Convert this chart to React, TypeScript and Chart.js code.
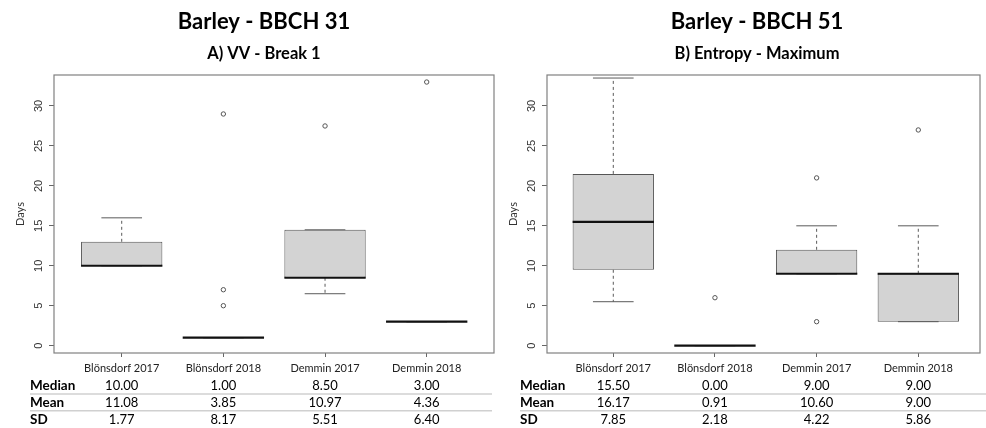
import React, { useEffect, useRef } from 'react';
import { Chart, registerables } from 'chart.js';

Chart.register(...registerables);

// ---------- data ----------
const categories = ['Blönsdorf 2017', 'Blönsdorf 2018', 'Demmin 2017', 'Demmin 2018'];
const yTicks = [0, 5, 10, 15, 20, 25, 30];
const statLabels = ['Median', 'Mean', 'SD'];

// Panel A: Barley - BBCH 31, VV - Break 1
const aLowerWhisker = [10, 1, 6.5, 3];
const aQ1 = [10, 1, 8.5, 3];
const aMedian = [10, 1, 8.5, 3];
const aQ3 = [13, 1, 14.5, 3];
const aUpperWhisker = [16, 1, 14.5, 3];
const aOutliers: number[][] = [[], [29, 7, 5], [27.5], [33]];
const aStatMedian = [10.0, 1.0, 8.5, 3.0];
const aStatMean = [11.08, 3.85, 10.97, 4.36];
const aStatSD = [1.77, 8.17, 5.51, 6.4];

// Panel B: Barley - BBCH 51, Entropy - Maximum
const bLowerWhisker = [5.5, 0, 9, 3];
const bQ1 = [9.5, 0, 9, 3];
const bMedian = [15.5, 0, 9, 9];
const bQ3 = [21.5, 0, 12, 9];
const bUpperWhisker = [33.5, 0, 15, 15];
const bOutliers: number[][] = [[], [6], [21, 3], [27]];
const bStatMedian = [15.5, 0.0, 9.0, 9.0];
const bStatMean = [16.17, 0.91, 10.6, 9.0];
const bStatSD = [7.85, 2.18, 4.22, 5.86];

// ---------- layout / style ----------
const W = 986;
const H = 428;
const FONT = 'Lato, "Open Sans", sans-serif';

const panels = [
  {
    title: 'Barley - BBCH 31',
    subtitle: 'A) VV - Break 1',
    lower: aLowerWhisker, q1: aQ1, median: aMedian, q3: aQ3, upper: aUpperWhisker,
    outliers: aOutliers, stats: [aStatMedian, aStatMean, aStatSD],
    pad: { left: 0, right: 492, top: 75, bottom: 0 }, yWidth: 54,
    xMin: 0.334, xMax: 4.662, titleX: 264, tableX0: 30, tableX1: 492,
  },
  {
    title: 'Barley - BBCH 51',
    subtitle: 'B) Entropy - Maximum',
    lower: bLowerWhisker, q1: bQ1, median: bMedian, q3: bQ3, upper: bUpperWhisker,
    outliers: bOutliers, stats: [bStatMedian, bStatMean, bStatSD],
    pad: { left: 505, right: 6, top: 75, bottom: 0 }, yWidth: 42,
    xMin: 0.348, xMax: 4.607, titleX: 757, tableX0: 520, tableX1: 986,
  },
];

const BOX_WIDTH = 0.8; // in category units
const STAPLE_WIDTH = 0.4;

const boxPlugin = {
  id: 'boxExtras',
  beforeDatasetsDraw(chart: any, _args: any, opts: any) {
    const p = opts.panel;
    const { ctx, scales } = chart;
    const x = scales.x, y = scales.y;
    ctx.save();
    ctx.strokeStyle = '#5a5a5a';
    ctx.lineWidth = 1;
    categories.forEach((_, i) => {
      const cx = x.getPixelForValue(i + 1);
      const sh = x.getPixelForValue(i + 1 + STAPLE_WIDTH / 2) - cx;
      ctx.setLineDash([3, 3]);
      if (p.upper[i] > p.q3[i]) {
        ctx.beginPath();
        ctx.moveTo(cx, y.getPixelForValue(p.q3[i]));
        ctx.lineTo(cx, y.getPixelForValue(p.upper[i]));
        ctx.stroke();
      }
      if (p.lower[i] < p.q1[i]) {
        ctx.beginPath();
        ctx.moveTo(cx, y.getPixelForValue(p.q1[i]));
        ctx.lineTo(cx, y.getPixelForValue(p.lower[i]));
        ctx.stroke();
      }
      ctx.setLineDash([]);
      [p.upper[i], p.lower[i]].forEach((v: number) => {
        const py = y.getPixelForValue(v);
        ctx.beginPath();
        ctx.moveTo(cx - sh, py);
        ctx.lineTo(cx + sh, py);
        ctx.stroke();
      });
    });
    ctx.restore();
  },
  afterDatasetsDraw(chart: any, _args: any, opts: any) {
    const p = opts.panel;
    const { ctx, scales, chartArea } = chart;
    const x = scales.x, y = scales.y;
    ctx.save();
    ctx.strokeStyle = '#111';
    ctx.lineWidth = 2.2;
    categories.forEach((_, i) => {
      const cx = x.getPixelForValue(i + 1);
      const hw = x.getPixelForValue(i + 1 + BOX_WIDTH / 2) - cx;
      const py = y.getPixelForValue(p.median[i]);
      ctx.beginPath();
      ctx.moveTo(cx - hw, py);
      ctx.lineTo(cx + hw, py);
      ctx.stroke();
    });
    // frame
    ctx.strokeStyle = '#808080';
    ctx.lineWidth = 1.2;
    ctx.strokeRect(chartArea.left, chartArea.top, chartArea.right - chartArea.left, chartArea.bottom - chartArea.top);
    ctx.restore();
  },
  afterDraw(chart: any, _args: any, opts: any) {
    const p = opts.panel;
    const { ctx, scales, chartArea } = chart;
    const x = scales.x, y = scales.y;
    ctx.save();
    // titles
    ctx.fillStyle = '#000';
    ctx.textAlign = 'center';
    ctx.textBaseline = 'alphabetic';
    ctx.font = `bold 22px ${FONT}`;
    ctx.fillText(p.title, p.titleX, 28.5);
    ctx.font = `bold 16.5px ${FONT}`;
    ctx.fillText(p.subtitle, p.titleX, 58.5);
    // y tick labels (rotated)
    ctx.fillStyle = '#333';
    ctx.font = '11px "Liberation Sans", Arial, sans-serif';
    ctx.textBaseline = 'middle';
    yTicks.forEach((v) => {
      ctx.save();
      ctx.translate(chartArea.left - 15.5, y.getPixelForValue(v));
      ctx.rotate(-Math.PI / 2);
      ctx.fillText(String(v), 0, 0);
      ctx.restore();
    });
    // y title
    ctx.save();
    ctx.font = `11px ${FONT}`;
    ctx.translate(chartArea.left - 34, (chartArea.top + chartArea.bottom) / 2);
    ctx.rotate(-Math.PI / 2);
    ctx.fillText('Days', 0, 0);
    ctx.restore();
    // table
    const baselines = [390, 406.5, 424];
    ctx.textBaseline = 'alphabetic';
    ctx.strokeStyle = '#d0d0d0';
    ctx.lineWidth = 1.5;
    [394, 410.7].forEach((ly) => {
      ctx.beginPath();
      ctx.moveTo(p.tableX0, ly);
      ctx.lineTo(p.tableX1, ly);
      ctx.stroke();
    });
    statLabels.forEach((lab, r) => {
      ctx.fillStyle = '#000';
      ctx.textAlign = 'left';
      ctx.font = `bold 13.5px ${FONT}`;
      ctx.fillText(lab, p.tableX0, baselines[r]);
      ctx.textAlign = 'center';
      ctx.font = `13px ${FONT}`;
      p.stats[r].forEach((v: number, i: number) => {
        ctx.fillText(v.toFixed(2), x.getPixelForValue(i + 1), baselines[r]);
      });
    });
    ctx.restore();
  },
};

function Panel({ panel }: { panel: any }) {
  const ref = useRef<HTMLCanvasElement>(null);
  useEffect(() => {
    if (!ref.current) return;
    const boxData = categories.map((_, i) => ({ x: i + 1, y: [panel.q1[i], panel.q3[i]] }));
    const outlierData = panel.outliers.flatMap((arr: number[], i: number) => arr.map((v) => ({ x: i + 1, y: v })));
    const chart = new Chart(ref.current, {
      type: 'bar',
      data: {
        datasets: [
          {
            type: 'scatter',
            data: outlierData,
            pointStyle: 'circle',
            pointRadius: 2.2,
            backgroundColor: 'rgba(0,0,0,0)',
            borderColor: '#555',
            borderWidth: 1,
            order: 0,
          } as any,
          {
            type: 'bar',
            data: boxData,
            backgroundColor: '#d3d3d3',
            borderColor: '#555',
            borderWidth: 1,
            borderSkipped: false,
            categoryPercentage: 1,
            barPercentage: BOX_WIDTH,
            order: 1,
          } as any,
        ],
      },
      options: {
        animation: false,
        responsive: false,
        maintainAspectRatio: false,
        events: [],
        layout: { padding: panel.pad },
        plugins: {
          legend: { display: false },
          title: { display: false },
          tooltip: { enabled: false },
          boxExtras: { panel },
        } as any,
        scales: {
          x: {
            type: 'linear',
            min: panel.xMin,
            max: panel.xMax,
            bounds: 'data',
            offset: false,
            afterBuildTicks: (s: any) => {
              s.ticks = categories.map((_, i) => ({ value: i + 1 }));
            },
            afterFit: (s: any) => {
              s.height = 75;
            },
            grid: { display: true, drawOnChartArea: false, drawTicks: true, tickLength: 4, color: '#666', offset: false },
            border: { display: false },
            ticks: {
              autoSkip: false,
              maxRotation: 0,
              minRotation: 0,
              padding: 5,
              color: '#222',
              font: { family: FONT, size: 11 },
              callback: (v: any) => categories[Math.round(Number(v)) - 1] ?? '',
            },
          } as any,
          y: {
            type: 'linear',
            min: -0.92,
            max: 33.88,
            bounds: 'data',
            afterBuildTicks: (s: any) => {
              s.ticks = yTicks.map((v) => ({ value: v }));
            },
            afterFit: (s: any) => {
              s.width = panel.yWidth;
            },
            grid: { display: true, drawOnChartArea: false, drawTicks: true, tickLength: 5, color: '#666' },
            border: { display: false },
            ticks: { display: false },
          } as any,
        },
      },
      plugins: [boxPlugin],
    });
    return () => chart.destroy();
  }, [panel]);
  return (
    <canvas
      ref={ref}
      width={W}
      height={H}
      style={{ position: 'absolute', left: 0, top: 0, width: W, height: H }}
    />
  );
}

export default function App() {
  return (
    <div style={{ position: 'absolute', left: 0, top: 0, width: W, height: H, background: '#fff', overflow: 'hidden' }}>
      {panels.map((p, i) => (
        <Panel key={i} panel={p} />
      ))}
    </div>
  );
}
